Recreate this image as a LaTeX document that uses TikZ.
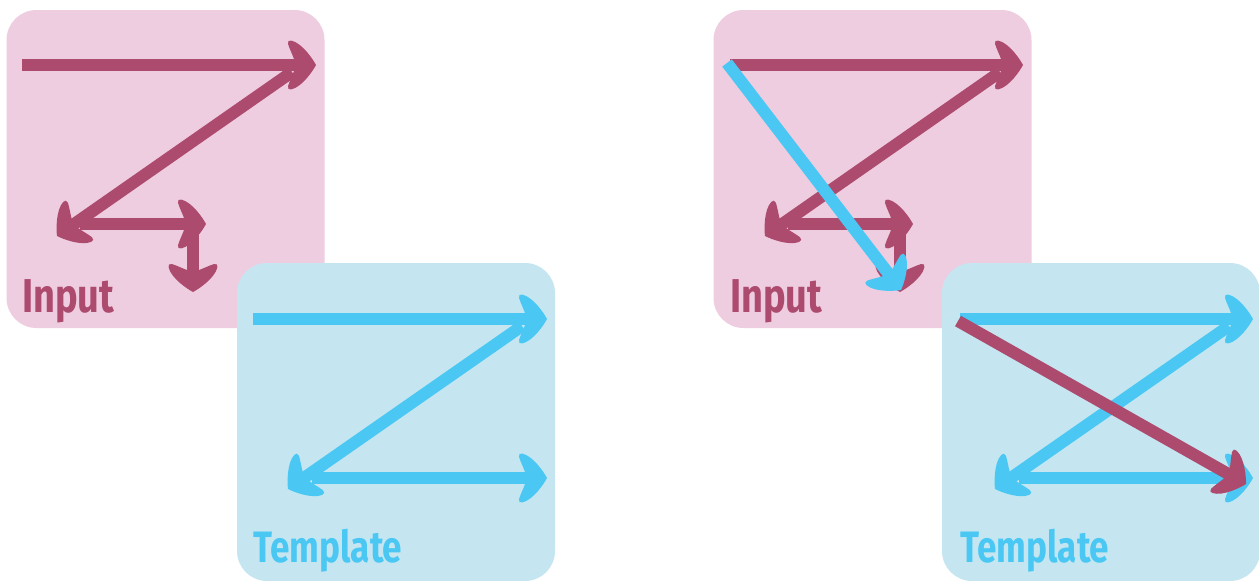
\documentclass[tikz,border=0pt]{standalone}
\usepackage{fontspec}
\usetikzlibrary{arrows.meta}
\newfontfamily\labelfont{Fira Sans}[FakeStretch=0.8]

\definecolor{pinkbg}{RGB}{239,205,224}
\definecolor{mag}{RGB}{173,75,111}
\definecolor{bluebg}{RGB}{197,230,241}
\definecolor{sky}{RGB}{74,200,243}

% Filled arrow head: soft nose, convex sides, fat barbs with a shallow concave back
\pgfdeclarearrow{
  name = Swoop,
  defaults = {length = 28pt, width = 46pt},
  parameters = {\the\pgfarrowlength,\the\pgfarrowwidth},
  setup code = {
    \pgfarrowssettipend{0pt}
    \pgfarrowssetlineend{-0.6\pgfarrowlength}
    \pgfarrowssetvisualbackend{-\pgfarrowlength}
    \pgfarrowssetbackend{-\pgfarrowlength}
    \pgfarrowshullpoint{0pt}{0pt}
    \pgfarrowsupperhullpoint{-\pgfarrowlength}{0.5\pgfarrowwidth}
    \pgfarrowssavethe\pgfarrowlength
    \pgfarrowssavethe\pgfarrowwidth
  },
  drawing code = {
    \pgfpathmoveto{\pgfpointorigin}
    \pgfpathcurveto{\pgfqpoint{-0.1\pgfarrowlength}{0.12\pgfarrowwidth}}
                   {\pgfqpoint{-0.5\pgfarrowlength}{0.48\pgfarrowwidth}}
                   {\pgfqpoint{-0.88\pgfarrowlength}{0.53\pgfarrowwidth}}
    \pgfpathcurveto{\pgfqpoint{-0.96\pgfarrowlength}{0.54\pgfarrowwidth}}
                   {\pgfqpoint{-1.03\pgfarrowlength}{0.52\pgfarrowwidth}}
                   {\pgfqpoint{-\pgfarrowlength}{0.46\pgfarrowwidth}}
    \pgfpathcurveto{\pgfqpoint{-0.94\pgfarrowlength}{0.34\pgfarrowwidth}}
                   {\pgfqpoint{-0.82\pgfarrowlength}{0.2\pgfarrowwidth}}
                   {\pgfqpoint{-0.78\pgfarrowlength}{0.12\pgfarrowwidth}}
    \pgfpathlineto{\pgfqpoint{-0.78\pgfarrowlength}{-0.12\pgfarrowwidth}}
    \pgfpathcurveto{\pgfqpoint{-0.82\pgfarrowlength}{-0.2\pgfarrowwidth}}
                   {\pgfqpoint{-0.94\pgfarrowlength}{-0.34\pgfarrowwidth}}
                   {\pgfqpoint{-\pgfarrowlength}{-0.46\pgfarrowwidth}}
    \pgfpathcurveto{\pgfqpoint{-1.03\pgfarrowlength}{-0.52\pgfarrowwidth}}
                   {\pgfqpoint{-0.96\pgfarrowlength}{-0.54\pgfarrowwidth}}
                   {\pgfqpoint{-0.88\pgfarrowlength}{-0.53\pgfarrowwidth}}
    \pgfpathcurveto{\pgfqpoint{-0.5\pgfarrowlength}{-0.48\pgfarrowwidth}}
                   {\pgfqpoint{-0.1\pgfarrowlength}{-0.12\pgfarrowwidth}}
                   {\pgfpointorigin}
    \pgfpathclose
    \pgfusepathqfill
  }
}

\tikzset{
  panel/.style={rounded corners=30pt, minimum width=318pt, minimum height=318pt,
                inner sep=0pt, draw=none},
  pinkpanel/.style={panel, fill=pinkbg},
  bluepanel/.style={panel, fill=bluebg},
  flow/.style={line width=12pt, -{Swoop}},
  mflow/.style={flow, draw=mag},
  bflow/.style={flow, draw=sky},
  lbl/.style={anchor=base west, inner sep=0pt, font=\labelfont\bfseries},
  inlbl/.style={lbl, text=mag, font=\labelfont\bfseries\fontsize{47.5}{47.5}\selectfont},
  tplbl/.style={lbl, text=sky, font=\labelfont\bfseries\fontsize{44}{44}\selectfont},
}

\begin{document}
\begin{tikzpicture}[x=1pt, y=-1pt]
  \useasboundingbox (0,0) rectangle (1259,581);

  % ---------- left pair ----------
  \node[pinkpanel] (inL) at (165.5,169) {};
  \coordinate (a1) at (22,65);   \coordinate (a2) at (316,65);
  \coordinate (a3) at (292,72);  \coordinate (a4) at (57,236);
  \coordinate (a5) at (80,224);  \coordinate (a6) at (206,224);
  \coordinate (a7) at (193,226); \coordinate (a8) at (193,292);
  \draw[mflow] (a1) -- (a2);
  \draw[mflow] (a3) -- (a4);
  \draw[mflow] (a5) -- (a6);
  \draw[mflow] (a7) -- (a8);
  \node[inlbl] (inLlbl) at (22,312) {Input};

  \node[bluepanel] (tpL) at (396,422) {};
  \coordinate (b1) at (253,319); \coordinate (b2) at (547,319);
  \coordinate (b3) at (522,326); \coordinate (b4) at (288,489);
  \coordinate (b5) at (312,478); \coordinate (b6) at (547,478);
  \draw[bflow] (b1) -- (b2);
  \draw[bflow] (b3) -- (b4);
  \draw[bflow] (b5) -- (b6);
  \node[tplbl] (tpLlbl) at (253,562) {Template};

  % ---------- right pair ----------
  \node[pinkpanel] (inR) at (872.5,169) {};
  \coordinate (c1) at (730,65);   \coordinate (c2) at (1023,65);
  \coordinate (c3) at (1000,72);  \coordinate (c4) at (765,236);
  \coordinate (c5) at (788,224);  \coordinate (c6) at (913,224);
  \coordinate (c7) at (900,226);  \coordinate (c8) at (900,292);
  \draw[mflow] (c1) -- (c2);
  \draw[mflow] (c3) -- (c4);
  \draw[mflow] (c5) -- (c6);
  \draw[mflow] (c7) -- (c8);
  \coordinate (e1) at (727,63);   \coordinate (e2) at (901,290);
  \draw[bflow] (e1) -- (e2);
  \node[inlbl] (inRlbl) at (730,312) {Input};

  \node[bluepanel] (tpR) at (1101,422) {};
  \coordinate (d1) at (960,319);  \coordinate (d2) at (1253,319);
  \coordinate (d3) at (1229,326); \coordinate (d4) at (995,489);
  \coordinate (d5) at (1019,478); \coordinate (d6) at (1253,478);
  \draw[bflow] (d1) -- (d2);
  \draw[bflow] (d3) -- (d4);
  \draw[bflow] (d5) -- (d6);
  \coordinate (f1) at (958,321);  \coordinate (f2) at (1246,484);
  \draw[mflow] (f1) -- (f2);
  \node[tplbl] (tpRlbl) at (960,562) {Template};
\end{tikzpicture}
\end{document}
